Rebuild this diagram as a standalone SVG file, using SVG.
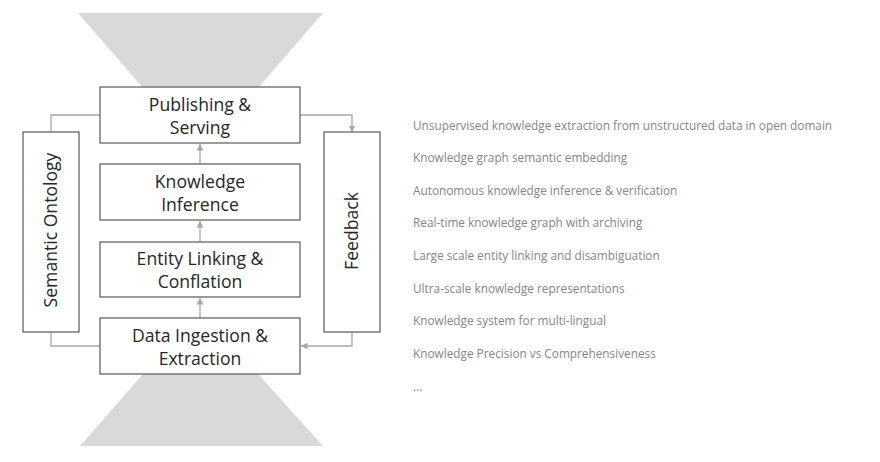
<svg xmlns="http://www.w3.org/2000/svg" width="880" height="462" viewBox="0 0 880 462">
<style>
.box{fill:#fff;stroke:#595959;stroke-width:1.2}
.lbl{font-family:"Open Sans","Noto Sans","Liberation Sans",sans-serif;font-size:17.6px;fill:#262626;text-anchor:middle}
.conn{fill:none;stroke:#a6a6a6;stroke-width:1.3}
.item{font-family:"Open Sans","Noto Sans","Liberation Sans",sans-serif;font-size:11.8px;fill:#858585}
.trap{fill:#d9d9d9}
</style>
<defs>
<marker id="ah" viewBox="0 0 10 10" refX="10" refY="5" markerWidth="5" markerHeight="5" orient="auto">
<path d="M0,0 L10,5 L0,10 z" fill="#a6a6a6"/>
</marker>
</defs>
<rect width="880" height="462" fill="#fff"/>
<polygon class="trap" points="78,13 323,13 258,88 143,88"/>
<polygon class="trap" points="143,374 258,374 323,446 80,446"/>
<g id="connectors">
<line class="conn" x1="200" y1="164" x2="200" y2="144" marker-end="url(#ah)"/>
<line class="conn" x1="200" y1="242" x2="200" y2="221" marker-end="url(#ah)"/>
<line class="conn" x1="200" y1="318" x2="200" y2="298" marker-end="url(#ah)"/>
<polyline class="conn" points="100,115 51,115 51,132"/>
<polyline class="conn" points="51,332 51,346 100,346"/>
<polyline class="conn" points="300,115 352,115 352,132" marker-end="url(#ah)"/>
<polyline class="conn" points="352,332 352,346 301,346" marker-end="url(#ah)"/>
</g>
<g id="publishing">
<rect class="box" x="100" y="87" width="200" height="56"/>
<text class="lbl" x="200" y="111">Publishing &amp;</text>
<text class="lbl" x="200" y="134">Serving</text>
</g>
<g id="inference">
<rect class="box" x="100" y="164" width="200" height="56"/>
<text class="lbl" x="200" y="188">Knowledge</text>
<text class="lbl" x="200" y="211">Inference</text>
</g>
<g id="linking">
<rect class="box" x="100" y="242" width="200" height="55"/>
<text class="lbl" x="200" y="265">Entity Linking &amp;</text>
<text class="lbl" x="200" y="288">Conflation</text>
</g>
<g id="ingestion">
<rect class="box" x="100" y="318" width="200" height="56"/>
<text class="lbl" x="200" y="342">Data Ingestion &amp;</text>
<text class="lbl" x="200" y="365">Extraction</text>
</g>
<g id="ontology">
<rect class="box" x="23" y="132" width="56" height="200"/>
<text class="lbl" transform="translate(57,230) rotate(-90)">Semantic Ontology</text>
</g>
<g id="feedback">
<rect class="box" x="324" y="132" width="56" height="200"/>
<text class="lbl" transform="translate(358,231) rotate(-90)">Feedback</text>
</g>
<g id="list">
<text class="item" x="413" y="130">Unsupervised knowledge extraction from unstructured data in open domain</text>
<text class="item" x="413" y="162">Knowledge graph semantic embedding</text>
<text class="item" x="413" y="195">Autonomous knowledge inference &amp; verification</text>
<text class="item" x="413" y="227">Real-time knowledge graph with archiving</text>
<text class="item" x="413" y="260">Large scale entity linking and disambiguation</text>
<text class="item" x="413" y="293">Ultra-scale knowledge representations</text>
<text class="item" x="413" y="325">Knowledge system for multi-lingual</text>
<text class="item" x="413" y="358">Knowledge Precision vs Comprehensiveness</text>
<text class="item" x="413" y="391">...</text>
</g>
</svg>
